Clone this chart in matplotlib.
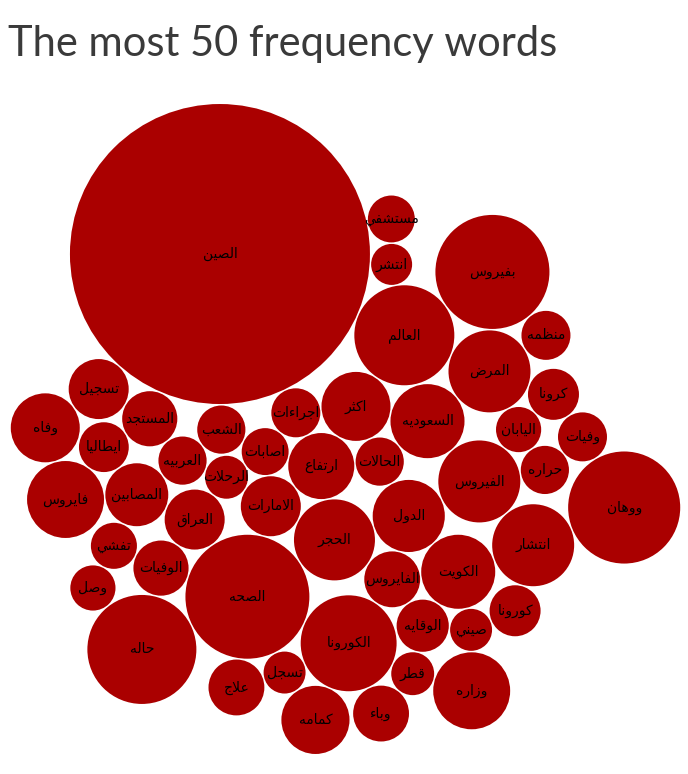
import numpy as np
import matplotlib
matplotlib.use("Agg")
import matplotlib.pyplot as plt
from matplotlib.patches import Circle

# ---------------- data ----------------
words = ["الصين", "الصحه", "بفيروس", "ووهان", "حاله", "العالم", "الكورونا",
         "انتشار", "الفيروس", "المرض", "الحجر", "وزاره", "فايروس", "السعوديه",
         "الكويت", "الدول", "اكثر", "وفاه", "كمامه", "ارتفاع", "المصابين",
         "العراق", "الامارات", "تسجيل", "علاج", "الفايروس", "وباء", "الوفيات",
         "المستجد", "الوقايه", "كرونا", "كورونا", "ايطاليا", "منظمه", "اجراءات",
         "وفيات", "الحالات", "العربيه", "الشعب", "حراره", "مستشفي", "اصابات",
         "تفشي", "اليابان", "وصل", "قطر", "الرحلات", "صيني", "تسجل", "انتشر"]
counts = [2250, 384, 325, 314, 297, 250, 230,
          168, 168, 168, 164, 148, 148, 137,
          137, 130, 119, 119, 116, 109, 99,
          90, 90, 90, 78, 78, 78, 76,
          76, 68, 65, 65, 62, 60, 60,
          60, 58, 58, 58, 58, 55, 55,
          53, 51, 51, 46, 46, 44, 44, 42]
title = "The most 50 frequency words"

# ---------------- Arabic shaping (presentation forms) ----------------
DUAL = {'ئ': 0xFE89, 'ب': 0xFE8F, 'ت': 0xFE95, 'ث': 0xFE99, 'ج': 0xFE9D,
        'ح': 0xFEA1, 'خ': 0xFEA5, 'س': 0xFEB1, 'ش': 0xFEB5, 'ص': 0xFEB9,
        'ض': 0xFEBD, 'ط': 0xFEC1, 'ظ': 0xFEC5, 'ع': 0xFEC9, 'غ': 0xFECD,
        'ف': 0xFED1, 'ق': 0xFED5, 'ك': 0xFED9, 'ل': 0xFEDD, 'م': 0xFEE1,
        'ن': 0xFEE5, 'ه': 0xFEE9, 'ي': 0xFEF1}
RIGHT = {'آ': 0xFE81, 'أ': 0xFE83, 'ؤ': 0xFE85, 'إ': 0xFE87, 'ا': 0xFE8D,
         'ة': 0xFE93, 'د': 0xFEA9, 'ذ': 0xFEAB, 'ر': 0xFEAD, 'ز': 0xFEAF,
         'و': 0xFEED, 'ى': 0xFEEF}
NONE = {'ء': 0xFE80}
LAMALEF = {'آ': 0xFEF5, 'أ': 0xFEF7, 'إ': 0xFEF9, 'ا': 0xFEFB}


def shape(word):
    chars = list(word)
    units = []
    i = 0
    while i < len(chars):
        c = chars[i]
        if c == 'ل' and i + 1 < len(chars) and chars[i + 1] in LAMALEF:
            units.append(('la', LAMALEF[chars[i + 1]]))
            i += 2
        else:
            units.append(('ch', c))
            i += 1

    def joins_next(u):
        return u[0] == 'ch' and u[1] in DUAL

    def joins_prev(u):
        return u[0] == 'la' or u[1] in DUAL or u[1] in RIGHT

    out = []
    for k, u in enumerate(units):
        prev = units[k - 1] if k > 0 else None
        nxt = units[k + 1] if k + 1 < len(units) else None
        cp = prev is not None and joins_next(prev) and joins_prev(u)
        cn = nxt is not None and joins_next(u) and joins_prev(nxt)
        if u[0] == 'la':
            out.append(chr(u[1] + (1 if cp else 0)))
            continue
        c = u[1]
        if c in DUAL:
            off = 3 if (cp and cn) else 1 if cp else 2 if cn else 0
            out.append(chr(DUAL[c] + off))
        elif c in RIGHT:
            out.append(chr(RIGHT[c] + (1 if cp else 0)))
        elif c in NONE:
            out.append(chr(NONE[c]))
        else:
            out.append(c)
    return ''.join(reversed(out))


# ---------------- packed-bubble layout ----------------
SCALE = np.sqrt(10.0)          # pixels per sqrt(count)
radii = SCALE * np.sqrt(np.array(counts, dtype=float))
GAP = 1.5


def pack(rad, order, anchor_rel, gap):
    n = len(rad)
    pos = np.zeros((n, 2))
    placed = [order[0]]
    anchor = np.array(anchor_rel) * rad[order[0]]
    for idx in order[1:]:
        r = rad[idx]
        P = pos[placed]
        R = rad[placed] + gap
        cands = []
        for j in range(len(placed)):
            d = anchor - P[j]
            nd = np.hypot(*d)
            if nd > 0:
                cands.append(P[j] + d / nd * (R[j] + r))
        m = len(placed)
        for a in range(m):
            for b in range(a + 1, m):
                ra = R[a] + r
                rb = R[b] + r
                dv = P[b] - P[a]
                d = np.hypot(*dv)
                if d == 0 or d > ra + rb or d < abs(ra - rb):
                    continue
                x = (ra ** 2 - rb ** 2 + d ** 2) / (2 * d)
                h = np.sqrt(max(ra ** 2 - x ** 2, 0.0))
                base = P[a] + dv * x / d
                perp = np.array([-dv[1], dv[0]]) / d
                cands.append(base + perp * h)
                cands.append(base - perp * h)
        C = np.array(cands)
        D = np.linalg.norm(C[:, None, :] - P[None, :, :], axis=2)
        ok = np.all(D >= R[None, :] + r - 1e-6, axis=1)
        C = C[ok]
        dist = np.linalg.norm(C - anchor, axis=1)
        pos[idx] = C[np.argmin(dist)]
        placed.append(idx)
    return pos


# largest bubble first, the rest in alphabetical (dimension) order
biggest = int(np.argmax(radii))
rest = sorted([i for i in range(len(words)) if i != biggest], key=lambda i: words[i])
order = [biggest] + rest
pos = pack(radii, order, (0.65, 1.36), GAP)

# ---------------- figure ----------------
W, H = 688, 774
fig = plt.figure(figsize=(W / 100, H / 100), dpi=100)
fig.patch.set_facecolor("white")
ax = fig.add_axes([0, 0, 1, 1])
ax.set_xlim(0, W)
ax.set_ylim(H, 0)
ax.set_aspect("equal")
ax.axis("off")

# centre the cluster in the plotting region below the title
region = (3, 106, 688, 752)
xmin = np.min(pos[:, 0] - radii); xmax = np.max(pos[:, 0] + radii)
ymin = np.min(pos[:, 1] - radii); ymax = np.max(pos[:, 1] + radii)
dx = (region[0] + region[2]) / 2 - (xmin + xmax) / 2
dy = (region[1] + region[3]) / 2 - (ymin + ymax) / 2
pos = pos + np.array([dx, dy])

for w, (x, y), r in zip(words, pos, radii):
    ax.add_patch(Circle((x, y), r, facecolor="#aa0000", edgecolor="none"))
    ax.text(x, y, shape(w), ha="center", va="center", fontsize=10,
            color="black", family="DejaVu Sans")

fig.text(8 / W, 1 - 56 / H, title, ha="left", va="baseline", fontsize=30,
         family="Lato", fontweight="normal", color="#3a3a3a")

fig.savefig("out.png", dpi=100, facecolor="white")
